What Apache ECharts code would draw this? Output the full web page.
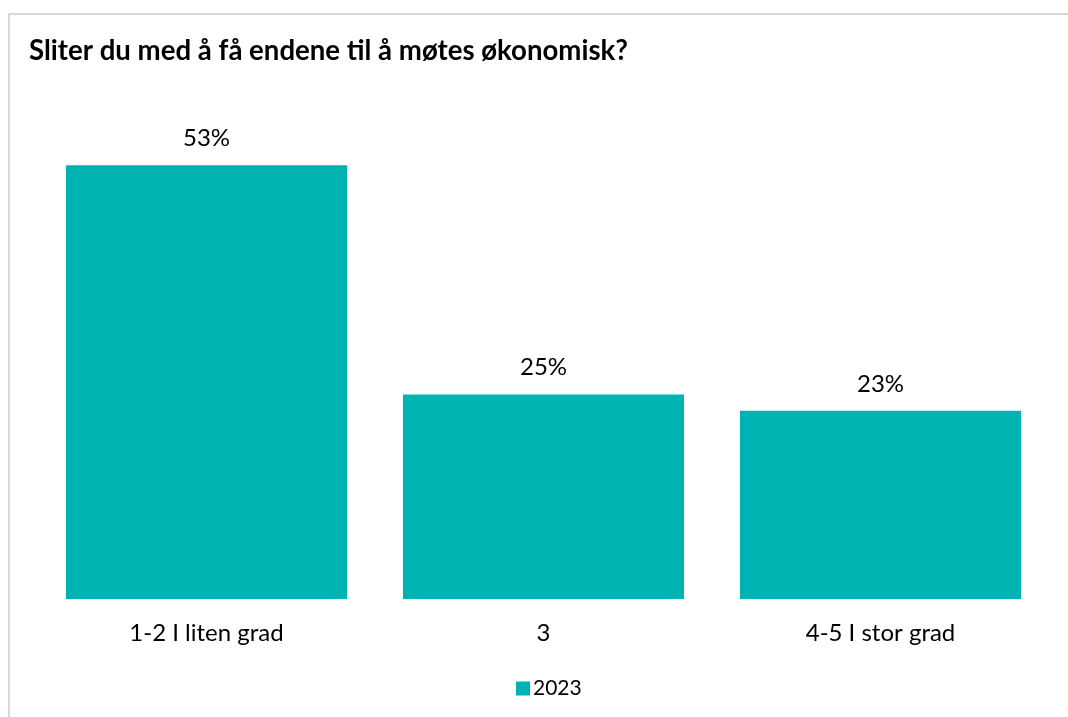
<!DOCTYPE html>
<html>
<head>
<meta charset="utf-8">
<script src="https://cdn.jsdelivr.net/npm/echarts@6/dist/echarts.min.js"></script>
<style>
html,body{margin:0;padding:0;background:#fff;}
#c{width:1068px;height:717px;}
</style>
</head>
<body>
<div id="c"></div>
<script>
const categories = ['1-2 I liten grad', '3', '4-5 I stor grad'];
const values2023 = [53, 25, 23];
const seriesName = '2023';
const titleText = 'Sliter du med å få endene til å møtes økonomisk?';

const chart = echarts.init(document.getElementById('c'));
chart.setOption({
  backgroundColor: '#fff',
  animation: false,
  textStyle: { fontFamily: 'Lato, "Open Sans", sans-serif' },
  graphic: [{
    type: 'rect',
    shape: { x: 9, y: 14, width: 1100, height: 800 },
    style: { fill: 'none', stroke: '#d9d9d9', lineWidth: 2 },
    silent: true
  }],
  title: {
    text: titleText,
    left: 24,
    top: 32,
    textStyle: { fontSize: 27.6, fontWeight: 'bold', color: '#000', fontFamily: 'Lato, "Open Sans", sans-serif' }
  },
  legend: {
    data: [seriesName],
    bottom: 13,
    left: 511,
    itemWidth: 14,
    itemHeight: 14,
    icon: 'rect',
    itemGap: 4,
    textStyle: { fontSize: 21, color: '#000', padding: [0, 0, 0, -2] }
  },
  grid: { left: 38, right: 19, top: 108, bottom: 118, containLabel: false },
  xAxis: {
    type: 'category',
    data: categories,
    axisLine: { show: false },
    axisTick: { show: false },
    axisLabel: { fontSize: 24, color: '#000', margin: 22 }
  },
  yAxis: {
    type: 'value',
    min: 0,
    max: 60,
    show: false,
    splitLine: { show: false }
  },
  series: [{
    name: seriesName,
    type: 'bar',
    data: values2023,
    barWidth: '83.4%',
    itemStyle: { color: '#00B3B3' },
    label: {
      show: true,
      position: 'top',
      distance: 15,
      formatter: '{c}%',
      fontSize: 24,
      color: '#000'
    }
  }]
});
</script>
</body>
</html>
